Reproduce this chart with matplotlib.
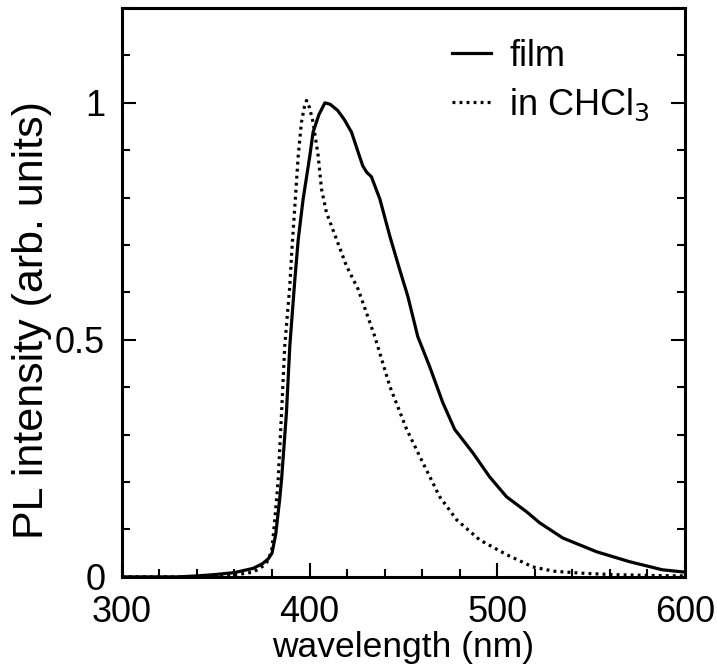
import matplotlib
matplotlib.use("Agg")
import matplotlib.pyplot as plt
from matplotlib.ticker import MultipleLocator

plt.rcParams['font.family'] = ['Liberation Sans', 'DejaVu Sans']

# film PL spectrum (solid)
film_wl = [300, 330, 340, 350, 360, 370, 375, 378, 380, 382, 384, 385.1, 387.7, 389.5,
           392.2, 394.0, 396.6, 400.2, 401.9, 405, 408.2, 411, 415, 418.5, 422.4, 426,
           428.4, 430.4, 433, 437.5, 442.8, 448, 452.4, 457.7, 464, 471, 477.4, 487,
           496, 505, 515.8, 522.7, 535, 553, 570.6, 588, 600]
film_int = [0.0, 0.0, 0.002, 0.005, 0.009, 0.018, 0.028, 0.038, 0.05, 0.09, 0.16, 0.205,
            0.346, 0.487, 0.628, 0.712, 0.797, 0.889, 0.938, 0.975, 1.0, 0.997, 0.984,
            0.965, 0.938, 0.895, 0.867, 0.854, 0.844, 0.797, 0.719, 0.649, 0.592, 0.507,
            0.444, 0.368, 0.311, 0.262, 0.211, 0.169, 0.137, 0.114, 0.082, 0.053, 0.032,
            0.015, 0.01]

# solution PL spectrum in CHCl3 (dotted)
sol_wl = [300, 340, 350, 360, 370, 373.5, 376, 378, 380, 381.5, 383.3, 385.1, 386.8,
          389.5, 390.4, 392.2, 394.0, 395.7, 397.2, 398.4, 400, 401.9, 404.6, 406.4, 409,
          414.4, 419.7, 425.9, 434.8, 442.8, 451.8, 460.4, 469.4, 478.5, 490.7, 505, 519,
          530, 544, 560, 580, 600]
sol_int = [0.0, 0.0, 0.001, 0.004, 0.01, 0.018, 0.025, 0.035, 0.06, 0.12, 0.205, 0.346,
           0.487, 0.614, 0.677, 0.783, 0.889, 0.959, 0.99, 1.005, 0.99, 0.959, 0.889,
           0.818, 0.769, 0.712, 0.656, 0.607, 0.507, 0.402, 0.311, 0.241, 0.169, 0.12,
           0.078, 0.047, 0.021, 0.012, 0.008, 0.005, 0.003, 0.002]

fig = plt.figure(figsize=(7.17, 6.70), dpi=100)
ax = fig.add_axes([0.170, 0.139, 0.785, 0.849])

ax.plot(film_wl, film_int, color='black', lw=2.3, label='film')
ax.plot(sol_wl, sol_int, color='black', lw=2.3, linestyle=(0, (0.9, 1.3)),
        label='in CHCl$_3$')

ax.set_xlim(300, 600)
ax.set_ylim(0, 1.2)
ax.xaxis.set_major_locator(MultipleLocator(100))
ax.xaxis.set_minor_locator(MultipleLocator(20))
ax.set_yticks([0, 0.5, 1])
ax.set_yticklabels(['0', '0.5', '1'])
ax.yaxis.set_minor_locator(MultipleLocator(0.1))
ax.tick_params(which='both', direction='in', top=False, right=True, width=1.5)
ax.tick_params(which='major', length=10)
ax.tick_params(which='minor', length=6)
ax.tick_params(axis='x', pad=13, labelsize=26)
ax.tick_params(axis='y', pad=12, labelsize=26)
for s in ax.spines.values():
    s.set_linewidth(2.2)

ax.set_xlabel('wavelength (nm)', fontsize=25.5, labelpad=1)
ax.set_ylabel('PL intensity (arb. units)', fontsize=31)
ax.yaxis.set_label_coords(-0.125, 0.452)

ax.legend(loc='upper left', frameon=False, fontsize=26, handlelength=1.1,
          handletextpad=0.5, labelspacing=0.35, borderpad=0, borderaxespad=0,
          bbox_to_anchor=(0.586, 0.946))

fig.savefig('out.png', dpi=100)
